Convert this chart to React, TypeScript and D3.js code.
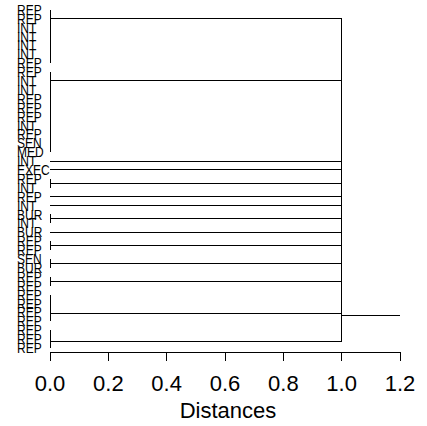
import React from "react";
import * as d3 from "d3";

// Leaf labels, top to bottom in dendrogram order
const leafLabels = [
  "REP", "REP", "INT", "INT", "INT", "INT", "REP",
  "REP", "INT", "INT", "REP", "REP", "REP", "INT", "REP", "SEN", "MED",
  "INT", "EXEC", "REP", "INT", "REP", "INT", "BUR", "INT", "BUR",
  "REP", "REP", "SEN", "BUR", "REP", "REP",
  "REP", "REP", "REP", "REP", "REP", "REP", "REP",
];

// Consecutive leaves that merge at distance 0, and how their tied merges nest
const clusterSizes = [7, 10, 1, 1, 2, 1, 1, 2, 1, 2, 2, 2, 4, 3];
const clusterNesting: ("head" | "tail")[] = [
  "head", "head", "head", "head", "head", "head", "head",
  "head", "head", "head", "head", "head", "tail", "tail",
];

// Merge heights
const clusterHeight = 0;
const mergeHeight = 1.0;
const rootHeight = 1.2;

const xTicks = [0, 0.2, 0.4, 0.6, 0.8, 1.0, 1.2];
const xTitle = "Distances";

type Node = { height: number; children?: Node[]; leaf?: number };

function chain(items: Node[], height: number, toward: "head" | "tail"): Node {
  if (items.length === 1) return items[0];
  if (toward === "head") {
    let n = items[items.length - 1];
    for (let i = items.length - 2; i >= 0; i--) n = { height, children: [items[i], n] };
    return n;
  }
  let n = items[0];
  for (let i = 1; i < items.length; i++) n = { height, children: [n, items[i]] };
  return n;
}

function buildTree(): Node {
  const groups: Node[] = [];
  let start = 0;
  clusterSizes.forEach((size, gi) => {
    const leaves: Node[] = d3.range(start, start + size).map((i) => ({ height: clusterHeight, leaf: i }));
    groups.push(chain(leaves, clusterHeight, clusterNesting[gi]));
    start += size;
  });
  const top = chain(groups, mergeHeight, "tail");
  return { height: rootHeight, children: [top] };
}

// Node position along the leaf axis: midway between first and last child
function position(n: Node): number {
  if (!n.children) return n.leaf as number;
  return (position(n.children[0]) + position(n.children[n.children.length - 1])) / 2;
}

type Seg = { x1: number; y1: number; x2: number; y2: number };

function segments(n: Node, out: Seg[]) {
  if (!n.children) return;
  const ys = n.children.map(position);
  if (ys[0] !== ys[ys.length - 1]) {
    out.push({ x1: n.height, y1: ys[0], x2: n.height, y2: ys[ys.length - 1] });
  }
  n.children.forEach((c, i) => {
    if (c.height !== n.height) out.push({ x1: n.height, y1: ys[i], x2: c.height, y2: ys[i] });
    segments(c, out);
  });
}

const W = 427;
const H = 426;
const FONT = "'Liberation Sans', Arial, Helvetica, sans-serif";

export default function App() {
  const x = d3.scaleLinear().domain([0, 1.2]).range([50, 400]);
  const y = d3.scaleLinear().domain([0, leafLabels.length - 1]).range([9.7, 348]);
  const axisY = 352;

  const segs: Seg[] = [];
  segments(buildTree(), segs);
  const fmt = d3.format(".1f");

  return (
    <svg
      width={W}
      height={H}
      style={{ position: "absolute", left: 0, top: 0, background: "#fff" }}
      fontFamily={FONT}
    >
      <g stroke="#000" strokeWidth={1} shapeRendering="crispEdges">
        {segs.map((s, i) => (
          <line key={i} x1={x(s.x1)} y1={y(s.y1)} x2={x(s.x2)} y2={y(s.y2)} />
        ))}
      </g>
      <g fontSize={12} fill="#000">
        {leafLabels.map((lab, i) => (
          <text key={i} transform={`translate(17,${y(i)}) scale(1,1.18)`} dy="0.36em">
            {lab}
          </text>
        ))}
      </g>
      <g stroke="#000" strokeWidth={1} shapeRendering="crispEdges">
        <line x1={x(xTicks[0])} x2={x(xTicks[xTicks.length - 1])} y1={axisY} y2={axisY} />
        {xTicks.map((t) => (
          <line key={t} x1={x(t)} x2={x(t)} y1={axisY} y2={axisY + 9} />
        ))}
      </g>
      <g fontSize={22} fill="#000" textAnchor="middle">
        {xTicks.map((t) => (
          <text key={t} x={x(t)} y={390.5}>
            {fmt(t)}
          </text>
        ))}
        <text x={(x(0) + x(1.2)) / 2 + 3} y={418}>
          {xTitle}
        </text>
      </g>
    </svg>
  );
}
